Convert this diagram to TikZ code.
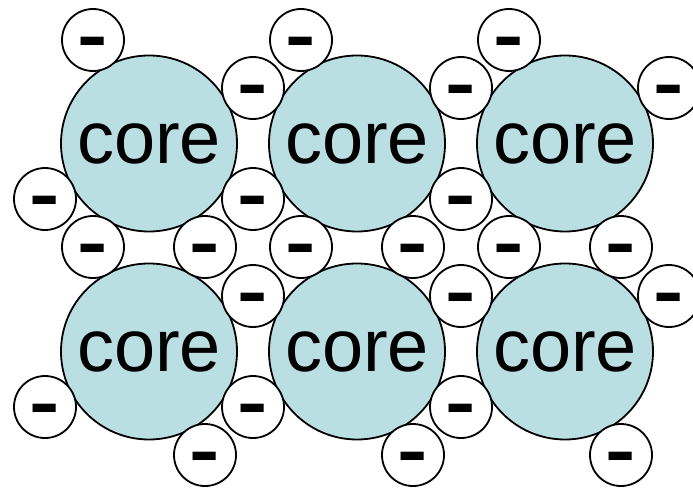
\documentclass[tikz,border=0pt]{standalone}
\usepackage{fontspec}
\setmainfont{Liberation Sans}
\definecolor{corefill}{RGB}{186,223,227}
\newcommand{\minusbar}{\raisebox{-0.28em}[0pt][0pt]{\scalebox{1.3}[1]{-}}}
\begin{document}
\begin{tikzpicture}[x=1pt,y=-1pt,
  corec/.style={circle,draw=black,line width=1.8pt,fill=corefill,minimum size=176pt,inner sep=0pt,font=\fontsize{74}{74}\selectfont},
  elec/.style={circle,draw=black,line width=1.8pt,fill=white,minimum size=62pt,inner sep=0pt,font=\fontsize{70}{70}\selectfont\bfseries}]
\useasboundingbox (0,0) rectangle (693,487);
% cores
\node[corec] (c1) at (149,143.5) {core};
\node[corec] (c2) at (357,143.5) {core};
\node[corec] (c3) at (565,143.5) {core};
\node[corec] (c4) at (149,351.5) {core};
\node[corec] (c5) at (357,351.5) {core};
\node[corec] (c6) at (565,351.5) {core};
% electrons
\foreach \x/\y [count=\i] in {93/40,301/40,509/40,
  253/88,461/88,669/88,
  45/199,253/199,461/199,
  93/247,205/247,301/247,413/247,509/247,621/247,
  253/296,461/296,669/296,
  45/407,253/407,461/407,
  205/455,413/455,621/455}
  \node[elec] (e\i) at (\x,\y) {\minusbar};
\end{tikzpicture}
\end{document}
